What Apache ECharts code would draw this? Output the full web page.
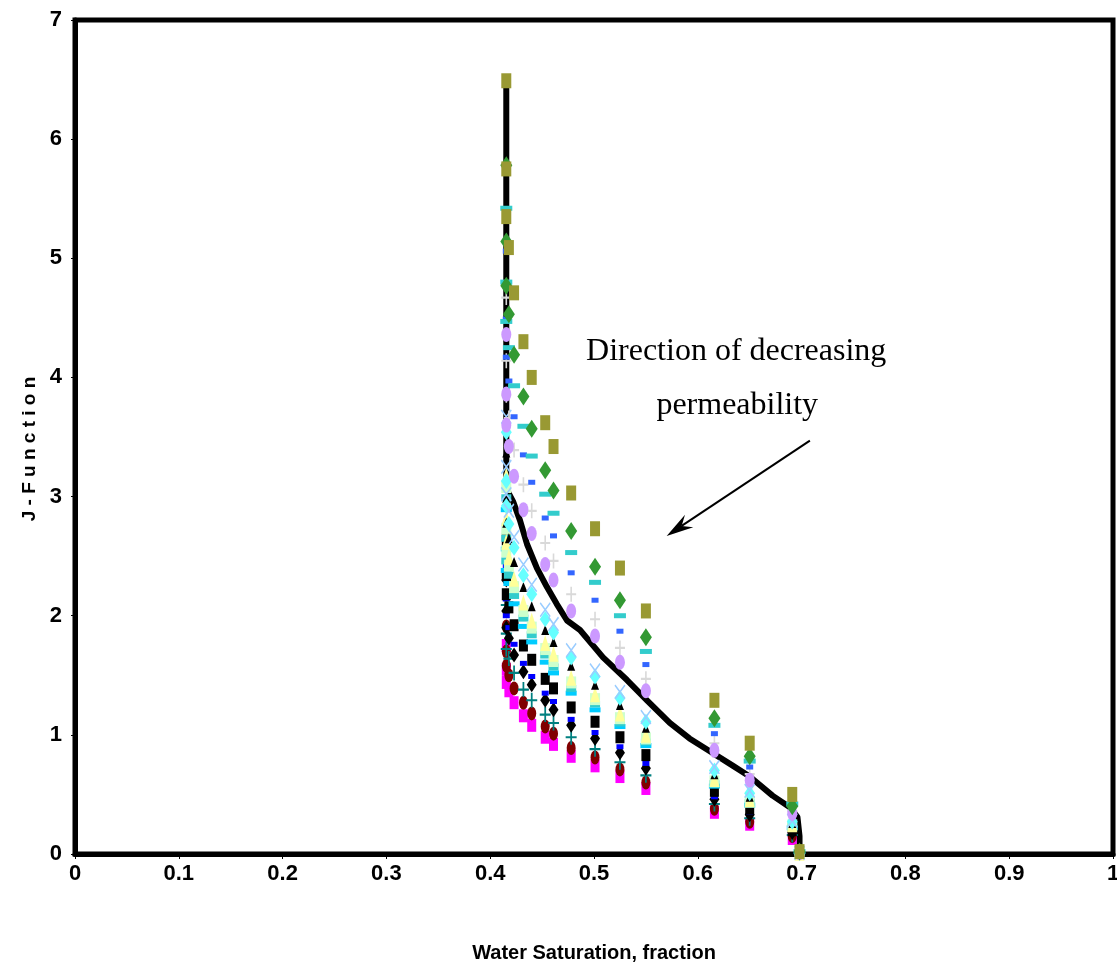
<!DOCTYPE html>
<html><head><meta charset="utf-8">
<script src="https://cdn.jsdelivr.net/npm/echarts@6/dist/echarts.min.js"></script>
<style>html,body{margin:0;padding:0;background:#fff}#c{width:1117px;height:972px}</style>
</head><body><div id="c"></div>
<script>
// Water saturation values shared by all sample series
const sw = [0.4155,0.4155,0.4155,0.418,0.423,0.432,0.440,0.453,0.461,0.478,0.501,0.525,0.550,0.616,0.650,0.691,0.698];
const xTickLabels = ['0','0.1','0.2','0.3','0.4','0.5','0.6','0.7','0.8','0.9','1'];
const yTickLabels = ['0','1','2','3','4','5','6','7'];

// J-function values per sample (lowest to highest)
const jMagentaSq   = [1.75,1.55,1.44,1.37,1.27,1.16,1.08,0.98,0.92,0.82,0.74,0.65,0.55,0.35,0.25,0.13,0.01];
const jMaroonCirc  = [1.91,1.70,1.58,1.50,1.39,1.27,1.18,1.07,1.01,0.89,0.81,0.71,0.60,0.38,0.27,0.15,0.01];
const jTealPlus    = [2.09,1.85,1.72,1.64,1.52,1.38,1.29,1.17,1.10,0.98,0.88,0.77,0.66,0.42,0.30,0.16,0.01];
const jBlackDiam   = [2.30,2.04,1.90,1.81,1.67,1.53,1.42,1.29,1.21,1.08,0.97,0.85,0.72,0.46,0.33,0.18,0.01];
const jBlueRect    = [2.42,2.14,2.00,1.90,1.76,1.60,1.49,1.35,1.28,1.13,1.02,0.90,0.76,0.48,0.35,0.19,0.01];
const jBlackSq     = [2.64,2.34,2.18,2.07,1.92,1.75,1.63,1.47,1.39,1.23,1.11,0.98,0.83,0.53,0.38,0.20,0.01];
const jSkyDash     = [2.89,2.56,2.38,2.27,2.10,1.91,1.78,1.61,1.52,1.35,1.21,1.07,0.91,0.57,0.41,0.22,0.01];
const jTurqRect    = [2.99,2.65,2.46,2.34,2.17,1.98,1.84,1.67,1.57,1.39,1.26,1.10,0.94,0.59,0.43,0.23,0.01];
const jPaleGreen   = [3.08,2.73,2.54,2.42,2.24,2.04,1.90,1.72,1.62,1.44,1.30,1.14,0.97,0.61,0.44,0.24,0.01];
const jYellowTri   = [3.18,2.82,2.62,2.49,2.31,2.11,1.96,1.77,1.68,1.48,1.34,1.18,1.00,0.63,0.46,0.25,0.01];
const jBlackTri    = [3.37,2.99,2.78,2.65,2.45,2.24,2.08,1.88,1.78,1.58,1.42,1.25,1.06,0.67,0.48,0.26,0.01];
const jCyanDiam    = [3.54,3.13,2.92,2.77,2.57,2.34,2.18,1.97,1.86,1.65,1.49,1.31,1.11,0.70,0.51,0.27,0.01];
const jLightBlueX  = [3.67,3.25,3.02,2.88,2.66,2.43,2.26,2.05,1.93,1.71,1.54,1.36,1.15,0.73,0.53,0.28,0.01];
const jGrayPlus    = [4.67,4.14,3.85,3.66,3.39,3.10,2.88,2.61,2.46,2.18,1.97,1.73,1.47,0.93,0.67,0.36,0.02];
const jLavCirc     = [4.36,3.86,3.60,3.42,3.17,2.89,2.69,2.43,2.30,2.04,1.83,1.61,1.37,0.87,0.62,0.34,0.01];
const jBlueDash    = [5.06,4.49,4.17,3.97,3.67,3.35,3.12,2.82,2.67,2.36,2.13,1.87,1.59,1.01,0.73,0.39,0.02];
const jTurqDash    = [5.42,4.80,4.47,4.25,3.93,3.59,3.34,3.02,2.86,2.53,2.28,2.00,1.70,1.08,0.78,0.42,0.02];
const jGreenDiam   = [5.78,5.14,4.77,4.53,4.19,3.84,3.57,3.22,3.05,2.71,2.41,2.13,1.82,1.14,0.82,0.40,0.02];
const jOliveSq     = [6.49,5.75,5.35,5.09,4.71,4.30,4.00,3.62,3.42,3.03,2.73,2.40,2.04,1.29,0.93,0.50,0.02];

// Average J-function curve (black line)
const lineSw = [0.4155,0.4155,0.417,0.422,0.4287,0.4355,0.445,0.4547,0.464,0.474,0.4865,0.501,0.5087,0.5318,0.551,0.573,0.592,0.612,0.634,0.650,0.672,0.689,0.696,0.698,0.698];
const lineJ  = [6.49,3.15,3.04,2.96,2.80,2.60,2.40,2.24,2.10,1.96,1.88,1.73,1.65,1.46,1.29,1.10,0.97,0.86,0.74,0.65,0.49,0.39,0.31,0.15,0.02];

const PLUS = 'path://M4.2,0H5.8V10H4.2ZM0,4.3H10V5.7H0Z';
const XMARK = 'path://M0,0.9L0.9,0L10,9.1L9.1,10ZM9.1,0L10,0.9L0.9,10L0,9.1Z';

const seriesDefs = [
  [jMagentaSq,  'rect',    [9,13],  '#FF00FF'],
  [jMaroonCirc, 'circle',  [9,14],  '#800000'],
  [jTealPlus,   PLUS,      [11,15], '#008080'],
  [jBlackDiam,  'diamond', [10,15], '#000000'],
  [jBlueRect,   'rect',    [7,5],   '#0000FF'],
  [jBlackSq,    'rect',    [9,12],  '#000000'],
  [jSkyDash,    'rect',    [11,5],  '#00CCFF'],
  [jTurqRect,   'rect',    [10,7],  '#33CCCC'],
  [jPaleGreen,  'rect',    [10,12], '#CCFFCC'],
  [jYellowTri,  'triangle',[10,16], '#FFFF99'],
  [jBlackTri,   'triangle',[8,10],  '#000000'],
  [jCyanDiam,   'diamond', [11,16], '#66FFFF'],
  [jLightBlueX, XMARK,     [11,15], '#99CCFF'],
  [jGrayPlus,   PLUS,      [10,15], '#D9D9D9'],
  [jLavCirc,    'circle',  [10,15], '#CC99FF'],
  [jBlueDash,   'rect',    [7,5],   '#3366FF'],
  [jTurqDash,   'rect',    [12,5],  '#33CCCC'],
  [jGreenDiam,  'diamond', [12,18], '#339933'],
  [jOliveSq,    'rect',    [10,15], '#999933']
];

const FONT = "'Liberation Sans',Arial,sans-serif";

const series = [{
  type: 'line',
  data: lineSw.map((x, i) => [x, lineJ[i]]),
  showSymbol: false,
  symbol: 'none',
  lineStyle: { color: '#000', width: 6, join: 'round', cap: 'round' },
  z: 1,
  silent: true
}];
seriesDefs.forEach((d, k) => {
  series.push({
    type: 'scatter',
    data: sw.map((x, i) => [x, d[0][i]]),
    symbol: d[1],
    symbolSize: d[2],
    itemStyle: { color: d[3], opacity: 1 },
    z: 2 + k,
    silent: true
  });
});

const chart = echarts.init(document.getElementById('c'), null, { renderer: 'canvas' });
chart.setOption({
  animation: false,
  backgroundColor: '#fff',
  grid: { left: 75, right: 4, top: 20, bottom: 118, containLabel: false, outerBoundsMode: 'none',
    show: true, borderColor: '#000', borderWidth: 5, backgroundColor: '#fff' },
  xAxis: {
    type: 'value', min: 0, max: 1, interval: 0.1,
    name: 'Water Saturation, fraction', nameLocation: 'middle', nameGap: 89,
    nameTextStyle: { fontFamily: FONT, fontWeight: 'bold', fontSize: 20, color: '#000' },
    axisLine: { show: true, lineStyle: { color: '#000', width: 5 } },
    axisTick: { show: true, length: 5, lineStyle: { color: '#000', width: 1 } },
    splitLine: { show: false },
    axisLabel: { margin: 9, fontFamily: FONT, fontWeight: 'bold', fontSize: 22, color: '#000',
      formatter: v => xTickLabels[Math.round(v * 10)] }
  },
  yAxis: {
    type: 'value', min: 0, max: 7, interval: 1,
    axisLine: { show: true, lineStyle: { color: '#000', width: 5 } },
    axisTick: { show: true, length: 4, lineStyle: { color: '#000', width: 1 } },
    splitLine: { show: false },
    axisLabel: { margin: 13, fontFamily: FONT, fontWeight: 'bold', fontSize: 22, color: '#000',
      formatter: v => yTickLabels[Math.round(v)] }
  },
  series: series
});

// Annotation anchored in data coordinates
const annText1 = [0.637, 4.22];
const annText2 = [0.638, 3.76];
const arrowFrom = [0.708, 3.47];
const arrowTo = [0.570, 2.67];
const p1 = chart.convertToPixel({ gridIndex: 0 }, annText1);
const p2 = chart.convertToPixel({ gridIndex: 0 }, annText2);
const a0 = chart.convertToPixel({ gridIndex: 0 }, arrowFrom);
const a1 = chart.convertToPixel({ gridIndex: 0 }, arrowTo);
const ang = Math.atan2(a1[1] - a0[1], a1[0] - a0[0]);
const L = 27, W = 7.5, inner = 18;
const ux = Math.cos(ang), uy = Math.sin(ang);
const head = [
  a1,
  [a1[0] - L * ux - W * uy, a1[1] - L * uy + W * ux],
  [a1[0] - inner * ux, a1[1] - inner * uy],
  [a1[0] - L * ux + W * uy, a1[1] - L * uy - W * ux]
];
const SERIF = "32px 'Liberation Serif','Times New Roman',serif";
chart.setOption({
  graphic: [
    { type: 'text', x: p1[0], y: p1[1], style: { text: 'Direction of decreasing', font: SERIF, fill: '#000', align: 'center', verticalAlign: 'middle' }, z: 100 },
    { type: 'text', x: p2[0], y: p2[1], style: { text: 'permeability', font: SERIF, fill: '#000', align: 'center', verticalAlign: 'middle' }, z: 100 },
    { type: 'line', shape: { x1: a0[0], y1: a0[1], x2: a1[0] - inner * ux, y2: a1[1] - inner * uy }, style: { stroke: '#000', lineWidth: 2 }, z: 100 },
    { type: 'polygon', shape: { points: head }, style: { fill: '#000' }, z: 100 },
    { type: 'text', x: 30, y: 449, rotation: Math.PI / 2, style: { text: 'J - F u n c t i o n', font: "bold 19px " + FONT, fill: '#000', align: 'center', verticalAlign: 'middle' }, z: 100 }
  ]
});
</script>
</body></html>
